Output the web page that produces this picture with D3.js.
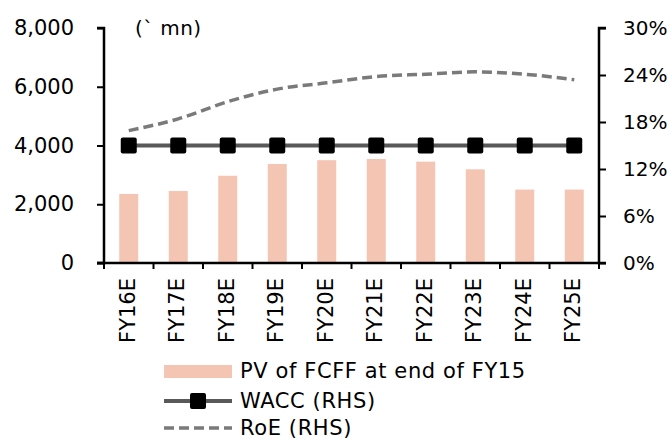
<!DOCTYPE html>
<html><head><meta charset="utf-8">
<script src="https://cdn.jsdelivr.net/npm/d3@7"></script>
<style>body{margin:0;background:#fff}svg{display:block}text{font-family:"DejaVu Sans",sans-serif;fill:#000}</style>
</head><body><svg id="c" width="672" height="440"></svg>
<script>
const categories = ["FY16E","FY17E","FY18E","FY19E","FY20E","FY21E","FY22E","FY23E","FY24E","FY25E"];
const pvFcff = [2350,2450,2970,3370,3500,3540,3450,3190,2500,2500];
const wacc = [15,15,15,15,15,15,15,15,15,15];
const roe = [16.9,18.4,20.6,22.2,23.0,23.8,24.1,24.4,24.1,23.4];
const leftTicks = [0,2000,4000,6000,8000];
const rightTicks = [0,6,12,18,24,30];
const unitLabel = "(` mn)";
const seriesNames = ["PV of FCFF at end of FY15","WACC (RHS)","RoE (RHS)"];

const svg = d3.select("#c");
const L = 104, R = 599, T = 28, B = 263;
const xb = d3.scaleBand().domain(categories).range([L,R]);
const yL = d3.scaleLinear().domain([0,8000]).range([B,T]);
const yR = d3.scaleLinear().domain([0,30]).range([B,T]);
const barColor = "#f5c5b3";
const cx = i => xb(categories[i])+xb.bandwidth()/2;

svg.append("g").selectAll("rect").data(pvFcff).join("rect")
  .attr("x",(d,i)=>cx(i)-9.5).attr("width",19)
  .attr("y",d=>yL(d)).attr("height",d=>B-yL(d)).attr("fill",barColor);

// RoE
svg.append("path").datum(roe)
  .attr("d",d3.line().x((d,i)=>cx(i)).y(d=>yR(d)).curve(d3.curveMonotoneX))
  .attr("fill","none").attr("stroke","#7a7a7a").attr("stroke-width",3.5).attr("stroke-dasharray","10,5");
// WACC
svg.append("path").datum(wacc)
  .attr("d",d3.line().x((d,i)=>cx(i)).y(d=>yR(d)))
  .attr("fill","none").attr("stroke","#595959").attr("stroke-width",4);
svg.append("g").selectAll("rect").data(wacc).join("rect")
  .attr("x",(d,i)=>cx(i)-8).attr("y",d=>yR(d)-8).attr("width",16).attr("height",16)
  .attr("rx",2).attr("fill","#000");

// axes
const fmt = d3.format(",");
const gl = svg.append("g").attr("transform",`translate(${L},0)`)
  .call(d3.axisLeft(yL).tickValues(leftTicks).tickFormat(fmt).tickSize(7).tickPadding(23));
const gr = svg.append("g").attr("transform",`translate(${R},0)`)
  .call(d3.axisRight(yR).tickValues(rightTicks).tickFormat(d=>d+"%").tickSize(7).tickPadding(17));
const gx = svg.append("g").attr("transform",`translate(0,${B})`)
  .call(d3.axisBottom(xb).tickSize(0).tickFormat(""));
gx.selectAll(".tick").remove();
gx.selectAll("line.bt").data(d3.range(categories.length+1)).join("line").attr("class","bt")
  .attr("x1",i=>L+i*xb.bandwidth()).attr("x2",i=>L+i*xb.bandwidth()).attr("y1",0).attr("y2",6)
  .attr("stroke","#000").attr("stroke-width",2);
[gl,gr,gx].forEach(g=>{
  g.select(".domain").attr("stroke","#000").attr("stroke-width",2.5);
  g.selectAll(".tick line").attr("stroke","#000").attr("stroke-width",2);
  g.selectAll(".tick text").style("font-size","21px").attr("fill","#000");
});
gr.selectAll(".tick text").style("font-size","20px");
gl.select(".domain").attr("d",`M-7,${T}H0V${B}H-7`);
gr.select(".domain").attr("d",`M7,${T}H0V${B}H7`);
gx.select(".domain").attr("d",`M${L-7},0H${R}`);

// category labels
svg.append("g").selectAll("text").data(categories).join("text")
  .attr("transform",(d,i)=>`translate(${cx(i)+6},278) rotate(-90)`)
  .attr("text-anchor","end").style("font-size","21px").text(d=>d);

// unit label
svg.append("text").attr("x",135).attr("y",35).style("font-size","20px").style("letter-spacing","0.4px").text(unitLabel);

// legend
const lg = svg.append("g");
const lx0 = 164, lx1 = 232, tx = 240;
const rows = [371,401,428];
lg.append("rect").attr("x",lx0).attr("y",rows[0]-6).attr("width",lx1-lx0).attr("height",13).attr("fill",barColor);
lg.append("line").attr("x1",lx0).attr("x2",lx1).attr("y1",rows[1]).attr("y2",rows[1]).attr("stroke","#595959").attr("stroke-width",4);
lg.append("rect").attr("x",(lx0+lx1)/2-8).attr("y",rows[1]-8).attr("width",16).attr("height",16).attr("rx",2).attr("fill","#000");
lg.append("line").attr("x1",lx0).attr("x2",lx1).attr("y1",rows[2]).attr("y2",rows[2]).attr("stroke","#7a7a7a").attr("stroke-width",3.5).attr("stroke-dasharray","10,5");
lg.selectAll("text").data(seriesNames).join("text").attr("x",tx).attr("y",(d,i)=>rows[i]+7)
  .style("font-size","21px").style("letter-spacing","0.6px").text(d=>d);
</script></body></html>
